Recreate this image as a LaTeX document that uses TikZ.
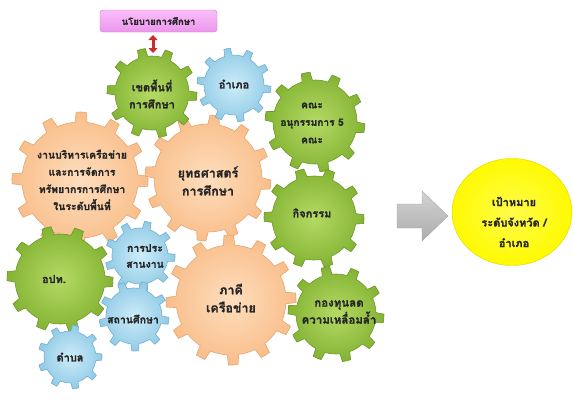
\documentclass[tikz,border=0pt]{standalone}
\usepackage{fontspec}
\newfontfamily\thai[Script=Thai, BoldFeatures={FakeBold=1.2}]{Loma}
\usetikzlibrary{arrows.meta,shapes.geometric}
\definecolor{g1}{RGB}{180,218,100}
\definecolor{g2}{RGB}{132,180,52}
\definecolor{g3}{RGB}{110,150,42}
\definecolor{o1}{RGB}{254,222,190}
\definecolor{o2}{RGB}{249,190,138}
\definecolor{o3}{RGB}{228,165,115}
\definecolor{b1}{RGB}{205,236,249}
\definecolor{b2}{RGB}{145,203,230}
\definecolor{b3}{RGB}{115,175,205}
\definecolor{p1}{RGB}{250,190,250}
\definecolor{p2}{RGB}{236,150,236}
\definecolor{p3}{RGB}{200,120,200}
\definecolor{ylw}{RGB}{255,250,0}
\definecolor{arrred}{RGB}{200,45,50}
\tikzset{
  pics/gear/.style n args={4}{code={%
    \pgfmathsetmacro\gs{360/#1}%
    \path[pic actions] ({#4}:#2)
      \foreach \k in {1,...,#1}{
        arc[start angle={#4+(\k-1)*\gs}, delta angle={0.60*\gs}, radius=#2]
        -- ({#4+(\k-1)*\gs+0.66*\gs}:{#2+#3})
        arc[start angle={#4+(\k-1)*\gs+0.66*\gs}, delta angle={0.28*\gs}, radius={#2+#3}]
        -- ({#4+\k*\gs}:#2)
      } -- cycle;
  }},
  greengear/.style={shade, inner color=g1, outer color=g2, draw=g3, line width=0.6pt},
  orangegear/.style={shade, inner color=o1, outer color=o2, draw=o3, line width=0.6pt},
  bluegear/.style={shade, inner color=b1, outer color=b2, draw=b3, line width=0.6pt},
  gtext/.style={font=\thai\bfseries\fontsize{11}{17}\selectfont, align=center, text=black!85, inner sep=0pt},
}
\begin{document}
\begin{tikzpicture}[x=1pt,y=1pt]
\useasboundingbox (0,0) rectangle (573,-399);
% orange gears
\pic[orangegear] at (80,-180) {gear={12}{58}{10}{5}};
\pic[orangegear] at (208,-178) {gear={12}{54}{9}{0}};
\pic[orangegear] at (231,-300) {gear={12}{55}{10}{8}};
% green gears
\pic[greengear] at (152,-93) {gear={10}{37}{8}{3}};
\pic[greengear] at (315,-122) {gear={10}{42}{8}{0}};
\pic[greengear] at (314,-218) {gear={10}{42}{8}{6}};
\pic[greengear] at (336,-314) {gear={10}{40}{8}{2}};
\pic[greengear] at (60,-279) {gear={10}{45}{8}{4}};
% blue gears
\pic[bluegear] at (234,-85) {gear={10}{30}{7}{0}};
\pic[bluegear] at (140,-256) {gear={9}{28}{7}{5}};
\pic[bluegear] at (134,-316) {gear={9}{28}{7}{0}};
\pic[bluegear] at (70,-357) {gear={9}{26}{6}{8}};
% texts
\node[gtext] (khet) at (152,-94) {เขตพื้นที่\\การศึกษา};
\node[gtext] (amphoe) at (234,-84) {อำเภอ};
\node[gtext, font=\thai\bfseries\fontsize{10.2}{17.5}\selectfont] (khana) at (312,-123) {คณะ\\อนุกรรมการ 5\\คณะ};
\node[gtext, font=\thai\bfseries\fontsize{10.4}{17.2}\selectfont] (ngan) at (82,-180) {งานบริหารเครือข่าย\\และการจัดการ\\ทรัพยากรการศึกษา\\ในระดับพื้นที่};
\node[gtext, font=\thai\bfseries\fontsize{12.5}{18}\selectfont] (yut) at (208,-181) {ยุทธศาสตร์\\การศึกษา};
\node[gtext] (kit) at (312,-213) {กิจกรรม};
\node[gtext] (opt) at (54,-279) {อปท.};
\node[gtext, font=\thai\bfseries\fontsize{10.5}{16}\selectfont] (prasan) at (145,-256) {การประ\\สานงาน};
\node[gtext, font=\thai\bfseries\fontsize{10.5}{16}\selectfont] (sathan) at (133,-319) {สถานศึกษา};
\node[gtext] (tambon) at (70,-357) {ตำบล};
\node[gtext, font=\thai\bfseries\fontsize{12.5}{18}\selectfont] (phaki) at (231,-298) {ภาคี\\เครือข่าย};
\node[gtext, font=\thai\bfseries\fontsize{11.5}{17}\selectfont] (kong) at (339,-312) {กองทุนลด\\ความเหลื่อมล้ำ};
% policy box
\node[draw=p3, top color=p1, bottom color=p2, rounded corners=3pt,
      minimum width=117pt, minimum height=22pt, inner sep=0pt,
      font=\thai\bfseries\fontsize{9.5}{12}\selectfont, text=black!85] (policy) at (158.5,-21) {นโยบายการศึกษา};
\coordinate (ra) at (153,-35);
\coordinate (rb) at (153,-53);
\draw[arrred, line width=3pt, {Triangle[width=9pt,length=5pt]}-{Triangle[width=9pt,length=5pt]}] (ra) -- (rb);
% gray arrow
\shade[top color=gray!35, bottom color=gray!65, draw=gray!70]
  (397,-204) -- (422,-204) -- (422,-191) -- (448,-216) -- (422,-241) -- (422,-228) -- (397,-228) -- cycle;
% target
\node[ellipse, shade, inner color=ylw!70!white, outer color=ylw, draw=ylw!85!black, line width=0.4pt,
      minimum width=120pt, minimum height=107pt, inner sep=0pt] (goal) at (512,-212) {};
\node[gtext, font=\thai\bfseries\fontsize{11}{20.5}\selectfont] (goaltext) at (514,-222) {เป้าหมาย\\ระดับจังหวัด /\\อำเภอ};
\end{tikzpicture}
\end{document}
